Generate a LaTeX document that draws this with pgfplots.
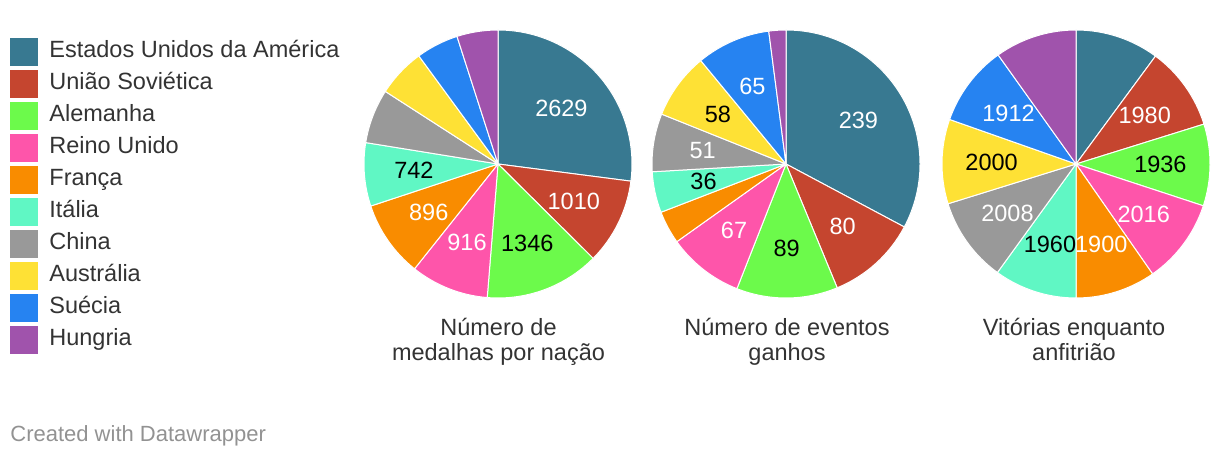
\documentclass[border=0pt]{standalone}
\usepackage{pgfplots}
\pgfplotsset{compat=1.18}
\usepackage{pgfplotstable}
\usepackage{fontspec}
\setmainfont{Liberation Sans}

\definecolor{c0}{HTML}{387991}
\definecolor{c1}{HTML}{C5452F}
\definecolor{c2}{HTML}{6CFA4B}
\definecolor{c3}{HTML}{FE55AA}
\definecolor{c4}{HTML}{F98C00}
\definecolor{c5}{HTML}{60F7C4}
\definecolor{c6}{HTML}{999999}
\definecolor{c7}{HTML}{FEE135}
\definecolor{c8}{HTML}{2683F1}
\definecolor{c9}{HTML}{A053AC}
\definecolor{txt}{HTML}{333333}
\definecolor{foot}{HTML}{929292}

% lab: 0 = no label, 1 = white label, 2 = black label
\pgfplotstableread{
val lab
2629 1
1010 1
1346 2
916 1
896 1
742 2
637 0
567 0
497 0
481 0
}\medals

\pgfplotstableread{
val lab
239 1
80 1
89 2
67 1
29 0
36 2
51 1
58 2
65 1
15 0
}\events

\pgfplotstableread{
val lab
1984 0
1980 1
1936 2
2016 1
1900 1
1960 2
2008 1
2000 2
1912 1
1938 0
}\hosts

\newcommand\mainfs{\fontsize{11.75pt}{14pt}\selectfont}

\newcommand\drawpie[3]{%
  \pgfplotstablegetrowsof{#1}%
  \edef\pielast{\fpeval{\pgfplotsretval-1}}%
  \gdef\pietotal{0}%
  \foreach \i in {0,...,\pielast}{%
    \pgfplotstablegetelem{\i}{val}\of#1%
    \xdef\pietotal{\fpeval{\pietotal+\pgfplotsretval}}%
  }%
  \gdef\pieacc{0}%
  \foreach \i in {0,...,\pielast}{%
    \pgfplotstablegetelem{\i}{val}\of#1\let\pieval\pgfplotsretval
    \pgfplotstablegetelem{\i}{lab}\of#1\let\pielab\pgfplotsretval
    \edef\aS{\fpeval{round(90-360*\pieacc/\pietotal,4)}}%
    \edef\aE{\fpeval{round(90-360*(\pieacc+\pieval)/\pietotal,4)}}%
    \edef\aM{\fpeval{round((\aS+\aE)/2,4)}}%
    \fill[c\i,draw=white,line width=0.5pt,line join=round] (axis cs:#2,#3) -- ++(\aS:67pt) arc[start angle=\aS,end angle=\aE,radius=67pt] -- cycle;%
    \ifnum\pielab=1\relax
      \path (axis cs:#2,#3) ++(\aM:42.2pt) node[text=white,font=\mainfs,inner sep=0pt]{\pieval};%
    \fi
    \ifnum\pielab=2\relax
      \path (axis cs:#2,#3) ++(\aM:42.2pt) node[text=black,font=\mainfs,inner sep=0pt]{\pieval};%
    \fi
    \xdef\pieacc{\fpeval{\pieacc+\pieval}}%
  }%
}

\begin{document}
\begin{tikzpicture}
\begin{axis}[
  x=0.5pt, y=0.5pt,
  xmin=0, xmax=1220, ymin=0, ymax=458,
  y dir=reverse,
  scale only axis,
  hide axis,
  clip=false,
]
\pgfplotsextra{%
  \path (axis cs:0,0) rectangle (axis cs:1220,458);
  % legend
  \foreach \i/\nm in {0/Estados Unidos da América,1/União Soviética,2/Alemanha,3/Reino Unido,4/França,5/Itália,6/China,7/Austrália,8/Suécia,9/Hungria}{%
    \edef\yy{\fpeval{51.7+32*\i}}%
    \fill[c\i] (axis cs:10,{\yy-14}) rectangle (axis cs:38,{\yy+14});
    \node[anchor=base west,inner sep=0pt,text=txt,font=\mainfs] at (axis cs:49,{\yy+6}) {\nm};
  }%
  % pies
  \drawpie{\medals}{498}{164}%
  \drawpie{\events}{786}{164}%
  \drawpie{\hosts}{1076}{164}%
  % titles
  \node[anchor=base,inner sep=0pt,text=txt,font=\mainfs] at (axis cs:498.5,336) {Número de};
  \node[anchor=base,inner sep=0pt,text=txt,font=\mainfs] at (axis cs:498.5,361) {medalhas por nação};
  \node[anchor=base,inner sep=0pt,text=txt,font=\mainfs] at (axis cs:787,336) {Número de eventos};
  \node[anchor=base,inner sep=0pt,text=txt,font=\mainfs] at (axis cs:787,361) {ganhos};
  \node[anchor=base,inner sep=0pt,text=txt,font=\mainfs] at (axis cs:1074,336) {Vitórias enquanto};
  \node[anchor=base,inner sep=0pt,text=txt,font=\mainfs] at (axis cs:1074,361) {anfitrião};
  % footer
  \node[anchor=base west,inner sep=0pt,text=foot,font=\fontsize{11pt}{13pt}\selectfont] at (axis cs:10,441.7) {Created with Datawrapper};
}
\end{axis}
\end{tikzpicture}
\end{document}
